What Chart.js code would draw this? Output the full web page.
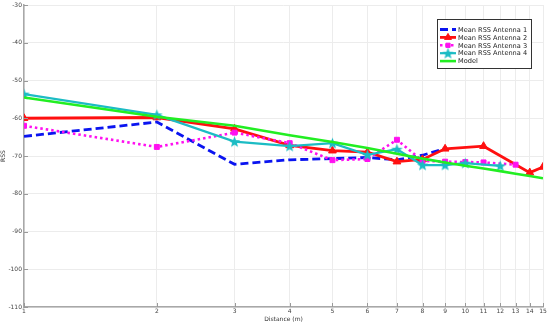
<!DOCTYPE html>
<html>
<head>
<meta charset="utf-8">
<script src="https://cdn.jsdelivr.net/npm/chart.js@4/dist/chart.umd.min.js"></script>
<style>
  html, body { margin: 0; padding: 0; background: #fff; }
</style>
</head>
<body>
<canvas id="rssChart" width="550" height="323"></canvas>
<script>
// distances (m) and mean RSS
const xTicks = [1, 2, 3, 4, 5, 6, 7, 8, 9, 10, 11, 12, 13, 14, 15];

const ant1Dist = [1, 2, 3, 4, 5, 6, 7, 8, 9];
const ant1Rss = [-64.8, -61, -72.2, -71, -70.7, -70.4, -71, -69.8, -68];

const ant2Dist = [1, 2, 3, 4, 5, 6, 7, 8, 9, 11, 14, 15];
const ant2Rss = [-60, -59.8, -62.8, -67.2, -68.6, -69, -71.5, -70.9, -68.1, -67.4, -74.4, -72.9];

const ant3Dist = [1, 2, 3, 4, 5, 6, 7, 8, 9, 10, 11, 13];
const ant3Rss = [-62, -67.6, -63.8, -66.6, -71.1, -70.8, -65.7, -71.3, -71.5, -71.6, -71.7, -72.3];

const ant4Dist = [1, 2, 3, 4, 5, 6, 7, 8, 9, 10, 12];
const ant4Rss = [-53.6, -59.1, -66.2, -67.4, -66.6, -69.7, -68.2, -72.4, -72.4, -71.9, -72.6];

const modelDist = [1, 2, 3, 4, 5, 6, 7, 8, 9, 10, 11, 12, 13, 14, 15];
const modelRss = [-54.5, -59.6, -62, -64.5, -66.3, -67.9, -69.4, -70.7, -71.7, -72.6, -73.3, -74, -74.7, -75.3, -75.9];

const seriesNames = ['Mean RSS Antenna 1', 'Mean RSS Antenna 2', 'Mean RSS Antenna 3', 'Mean RSS Antenna 4', 'Model'];

function toPoints(xs, ys) {
    return xs.map((x, i) => ({ x: x, y: ys[i] }));
}

// filled 5-point star like matlab's pentagram marker
function makeStar(size, color) {
    const c = document.createElement('canvas');
    c.width = size; c.height = size;
    const g = c.getContext('2d');
    const cx = size / 2, cy = size / 2 + 0.5;
    const rOut = size / 2 - 0.5, rIn = rOut * 0.42;
    g.beginPath();
    for (let i = 0; i < 10; i++) {
        const r = i % 2 === 0 ? rOut : rIn;
        const a = -Math.PI / 2 + i * Math.PI / 5;
        g.lineTo(cx + r * Math.cos(a), cy + r * Math.sin(a));
    }
    g.closePath();
    g.fillStyle = color;
    g.fill();
    return c;
}

const blue = '#0a14f0';
const red = '#ff1010';
const magenta = '#ff10f0';
const cyan = '#1cbcc4';
const green = '#22ee22';
const starImg = makeStar(13, cyan);

Chart.defaults.font.family = "'DejaVu Sans', Verdana, sans-serif";
Chart.defaults.font.size = 6;
Chart.defaults.color = '#444';

const datasets = [
    {
        label: seriesNames[0], data: toPoints(ant1Dist, ant1Rss),
        borderColor: blue, backgroundColor: blue, borderWidth: 2.8,
        borderDash: [8, 4], pointRadius: 0, order: 5
    },
    {
        label: seriesNames[1], data: toPoints(ant2Dist, ant2Rss),
        borderColor: red, backgroundColor: red, borderWidth: 2.8,
        pointStyle: 'triangle', pointRadius: 4.5, pointBorderWidth: 1, order: 4
    },
    {
        label: seriesNames[2], data: toPoints(ant3Dist, ant3Rss),
        borderColor: magenta, backgroundColor: magenta, borderWidth: 2.6,
        borderDash: [2.5, 3], pointStyle: 'rect', pointRadius: 3.5, pointBorderWidth: 1, order: 3
    },
    {
        label: seriesNames[3], data: toPoints(ant4Dist, ant4Rss),
        borderColor: cyan, backgroundColor: cyan, borderWidth: 2.2,
        pointStyle: starImg, pointRadius: 6.5, order: 2
    },
    {
        label: seriesNames[4], data: toPoints(modelDist, modelRss),
        borderColor: green, backgroundColor: green, borderWidth: 2.6,
        pointRadius: 0, order: 1
    }
];

// boxed legend in the top right corner, drawn by hand
const boxLegend = {
    id: 'boxLegend',
    afterDraw(chart) {
        const ctx = chart.ctx;
        const x0 = 437, y0 = 19, w = 94, h = 49;
        ctx.save();
        ctx.fillStyle = '#fff';
        ctx.fillRect(x0, y0, w, h);
        ctx.strokeStyle = '#333';
        ctx.lineWidth = 1;
        ctx.strokeRect(x0 + 0.5, y0 + 0.5, w, h);
        ctx.font = "6.6px 'DejaVu Sans', Verdana, sans-serif";
        ctx.textBaseline = 'middle';
        chart.data.datasets.forEach((ds, i) => {
            const y = y0 + 10.5 + i * 7.9;
            ctx.strokeStyle = ds.borderColor;
            ctx.lineWidth = ds.borderWidth;
            ctx.setLineDash(ds.borderDash || []);
            ctx.beginPath();
            ctx.moveTo(x0 + 3, y);
            ctx.lineTo(x0 + 19, y);
            ctx.stroke();
            ctx.setLineDash([]);
            if (ds.pointRadius > 0) {
                ctx.fillStyle = ds.backgroundColor;
                ctx.strokeStyle = ds.borderColor;
                ctx.lineWidth = 1;
                Chart.helpers.drawPoint(ctx, {
                    pointStyle: ds.pointStyle, rotation: 0,
                    radius: ds.pointStyle === starImg ? 5.5 : ds.pointRadius - 0.5,
                    borderWidth: 1
                }, x0 + 11, y);
            }
            ctx.fillStyle = '#222';
            ctx.fillText(ds.label, x0 + 21, y + 0.5);
        });
        ctx.restore();
    }
};

// small inward tick marks like the original axes
const innerTicks = {
    id: 'innerTicks',
    afterDatasetsDraw(chart) {
        const ctx = chart.ctx;
        const a = chart.chartArea;
        const xs = chart.scales.x, ys = chart.scales.y;
        ctx.save();
        ctx.strokeStyle = '#999';
        ctx.lineWidth = 1;
        ctx.beginPath();
        xTicks.forEach(v => {
            const px = Math.round(xs.getPixelForValue(v)) + 0.5;
            ctx.moveTo(px, a.bottom);
            ctx.lineTo(px, a.bottom - 4);
        });
        ys.ticks.forEach(t => {
            const py = Math.round(ys.getPixelForValue(t.value)) + 0.5;
            ctx.moveTo(a.left, py);
            ctx.lineTo(a.left + 4, py);
        });
        ctx.stroke();
        ctx.restore();
    }
};

new Chart(document.getElementById('rssChart').getContext('2d'), {
    type: 'line',
    data: { datasets: datasets },
    options: {
        responsive: false,
        animation: false,
        layout: { autoPadding: false, padding: { top: 5, right: 7, left: 0, bottom: 0 } },
        scales: {
            x: {
                type: 'logarithmic',
                min: 1,
                max: 15,
                afterBuildTicks(scale) {
                    scale.ticks = xTicks.map(v => ({ value: v }));
                },
                afterFit(scale) {
                    scale.height = 16;
                    scale.paddingLeft = 0;
                    scale.paddingRight = 0;
                },
                ticks: {
                    autoSkip: false,
                    maxRotation: 0,
                    padding: 1,
                    callback: (v) => String(v)
                },
                grid: { color: '#ececec', drawTicks: false },
                border: { color: '#a8a8a8', width: 1.5 },
                title: { display: true, text: 'Distance (m)', color: '#333', padding: { top: 0, bottom: 0 } }
            },
            y: {
                min: -110,
                max: -30,
                afterFit(scale) {
                    scale.width = 24;
                    scale.paddingTop = 0;
                    scale.paddingBottom = 0;
                },
                ticks: { stepSize: 10, padding: 2, callback: (v) => String(v) },
                grid: { color: '#ececec', drawTicks: false },
                border: { color: '#a8a8a8', width: 1.5 },
                title: { display: true, text: 'RSS', color: '#333', padding: { top: 0, bottom: 0 } }
            }
        },
        plugins: {
            legend: { display: false },
            tooltip: { enabled: false }
        }
    },
    plugins: [innerTicks, boxLegend]
});
</script>
</body>
</html>
